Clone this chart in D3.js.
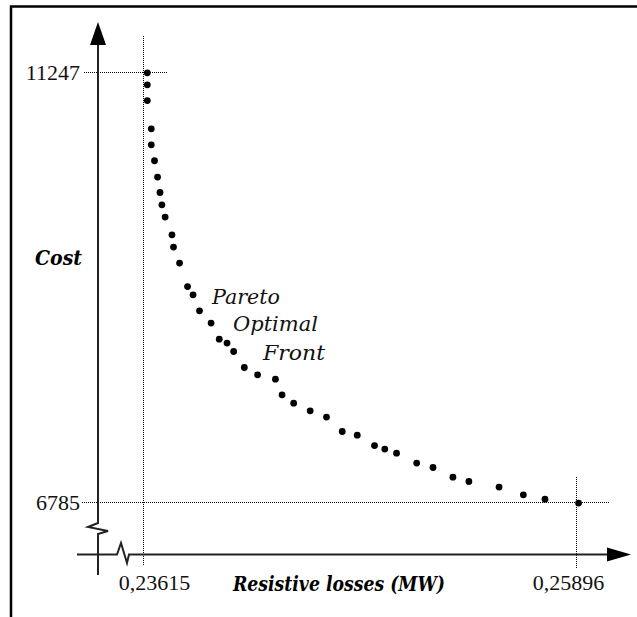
<!DOCTYPE html>
<html>
<head>
<meta charset="utf-8">
<script src="https://cdn.jsdelivr.net/npm/d3@7"></script>
<style>
  body { margin: 0; background: #fff; }
  svg { display: block; }
  .num { font-family: "Liberation Serif", "DejaVu Serif", serif; font-size: 22px; fill: #111; }
  .lbl { font-family: "DejaVu Serif", serif; font-size: 20px; font-weight: bold; font-style: italic; fill: #000; }
  .note { font-family: "DejaVu Serif", serif; font-size: 20px; font-style: italic; fill: #111; }
</style>
</head>
<body>
<div id="chart"></div>
<script>
// data (resistive losses in MW, cost)
const losses = [0.23635, 0.23635, 0.23635, 0.23656, 0.23656, 0.23673, 0.23689, 0.23702,
  0.23712, 0.23729, 0.23765, 0.23773, 0.23805, 0.23847, 0.23876, 0.2391, 0.23971,
  0.24014, 0.24055, 0.2409, 0.24146, 0.24216, 0.2431, 0.24345, 0.24406, 0.24493,
  0.24579, 0.24662, 0.24741, 0.24832, 0.24886, 0.24948, 0.25054, 0.2514, 0.25245,
  0.25329, 0.25488, 0.25616, 0.2573, 0.25907];
const cost = [11244, 11119, 10956, 10663, 10497, 10331, 10162, 10002,
  9874, 9747, 9563, 9435, 9269, 9026, 8940, 8774, 8647,
  8480, 8439, 8352, 8186, 8110, 8065, 7902, 7816, 7736,
  7671, 7522, 7484, 7376, 7339, 7297, 7194, 7148, 7048,
  7003, 6945, 6865, 6820, 6779];
const xTicks = [0.23615, 0.25896];
const yTicks = [6785, 11247];
const noteLines = ["Pareto", "Optimal", "Front"];

const W = 637, H = 617;
const svg = d3.select('#chart').append('svg').attr('width', W).attr('height', H);

const x = d3.scaleLinear().domain(d3.extent(xTicks)).range([143.5, 576.5]);
const y = d3.scaleLinear().domain(d3.extent(yTicks)).range([502.5, 72.5]);
const fmtX = d3.formatLocale({ decimal: ',', thousands: '.', grouping: [3], currency: ['', ''] }).format('.5f');

// frame (top and left only)
svg.append('path').attr('d', `M11,617 V6.5 H637`)
  .attr('fill', 'none').attr('stroke', '#000').attr('stroke-width', 2.5);

const ax0 = 98, ay0 = 554.5;

// dotted guide lines
const dots = svg.append('g').attr('stroke', '#000').attr('stroke-width', 1)
  .attr('stroke-dasharray', '1,1').attr('shape-rendering', 'crispEdges');
dots.append('line').attr('x1', 84).attr('x2', 168).attr('y1', y(yTicks[1])).attr('y2', y(yTicks[1]));
dots.append('line').attr('x1', 82).attr('x2', 610).attr('y1', y(yTicks[0])).attr('y2', y(yTicks[0]));
dots.append('line').attr('x1', x(xTicks[0])).attr('x2', x(xTicks[0])).attr('y1', 36).attr('y2', 565);
dots.append('line').attr('x1', x(xTicks[1])).attr('x2', x(xTicks[1])).attr('y1', 477).attr('y2', 568);

// axes with break marks
const axes = svg.append('g').attr('fill', 'none').attr('stroke', '#222').attr('stroke-width', 2);
axes.append('path').attr('d', `M${ax0},40 V523 L88,527 L108,531 L${ax0},534 V575`);
axes.append('path').attr('d', `M77,${ay0} H117 L121,543 L127,563 L129,${ay0} H612`);

// arrow heads
svg.append('path').attr('d', `M${ax0},22 L${ax0 - 8},45 L${ax0 + 8},45 Z`).attr('fill', '#000');
svg.append('path').attr('d', `M631,${ay0} L607,${ay0 - 7} L607,${ay0 + 7} Z`).attr('fill', '#000');

// tick labels
svg.selectAll('.ylab').data(yTicks).enter().append('text')
  .attr('class', 'num ylab')
  .attr('x', 80).attr('y', d => y(d)).attr('dy', '0.35em')
  .attr('text-anchor', 'end')
  .text(d => d);

svg.selectAll('.xlab').data(xTicks).enter().append('text')
  .attr('class', 'num xlab')
  .attr('x', (d, i) => i === 0 ? x(d) + 11 : x(d) - 8)
  .attr('y', 590)
  .attr('text-anchor', 'middle')
  .text(d => fmtX(d));

// axis titles
svg.append('text').attr('class', 'lbl').attr('x', 35).attr('y', 265)
  .attr('textLength', 47).attr('lengthAdjust', 'spacingAndGlyphs').text('Cost');
svg.append('text').attr('class', 'lbl').attr('x', 233).attr('y', 591)
  .attr('textLength', 212).attr('lengthAdjust', 'spacingAndGlyphs').text('Resistive losses (MW)');

// annotation
svg.selectAll('.note').data(noteLines).enter().append('text')
  .attr('class', 'note')
  .attr('x', (d, i) => [212, 233, 263][i])
  .attr('y', (d, i) => [304, 331, 360][i])
  .attr('textLength', (d, i) => [68, 85, 62][i])
  .attr('lengthAdjust', 'spacingAndGlyphs')
  .text(d => d);

// points
svg.append('g').selectAll('circle').data(losses).enter().append('circle')
  .attr('cx', d => x(d))
  .attr('cy', (d, i) => y(cost[i]))
  .attr('r', 3.4)
  .attr('fill', '#000');
</script>
</body>
</html>
